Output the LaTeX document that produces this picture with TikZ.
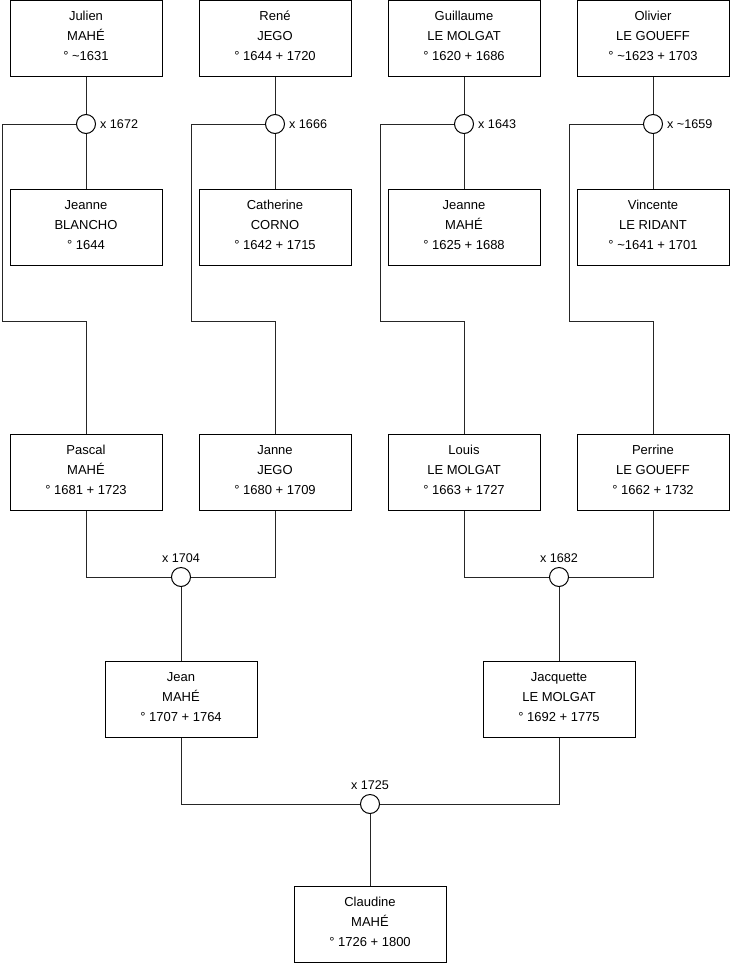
\documentclass[tikz,border=0pt]{standalone}
\usepackage{fontspec}
\setmainfont{Liberation Sans}
\usepackage{tikz}

\begin{document}
\begin{tikzpicture}[
        x=1pt, y=-1pt,
        person/.style={draw, rectangle, minimum width=152pt, minimum height=76pt,
                       align=center, inner sep=2pt, line width=1pt, text depth=4pt,
                       font=\fontsize{13}{20}\selectfont},
        union/.style={draw, circle, minimum size=19pt, inner sep=0pt,
                      fill=white, line width=1pt},
        ulbl/.style={font=\fontsize{12.6}{14}\selectfont, inner sep=0pt},
        link/.style={line width=1pt, draw=black!85}
    ]
    \useasboundingbox (0,0) rectangle (740,975);

    % ---- Row 1: fathers ----
    \node[person] (julien)    at (86, 38)  {Julien\\MAHÉ\\° \textasciitilde 1631};
    \node[person] (rene)      at (275, 38) {René\\JEGO\\° 1644 + 1720};
    \node[person] (guillaume) at (464, 38) {Guillaume\\LE MOLGAT\\° 1620 + 1686};
    \node[person] (olivier)   at (653, 38) {Olivier\\LE GOUEFF\\° \textasciitilde 1623 + 1703};

    % ---- Marriages, first generation ----
    \node[union] (m1672) at (86, 124)  {};
    \node[union] (m1666) at (275, 124) {};
    \node[union] (m1643) at (464, 124) {};
    \node[union] (m1659) at (653, 124) {};
    \node[ulbl, anchor=west] (t1672) at ([xshift=4pt]m1672.east) {x 1672};
    \node[ulbl, anchor=west] (t1666) at ([xshift=4pt]m1666.east) {x 1666};
    \node[ulbl, anchor=west] (t1643) at ([xshift=4pt]m1643.east) {x 1643};
    \node[ulbl, anchor=west] (t1659) at ([xshift=4pt]m1659.east) {x \textasciitilde 1659};

    % ---- Row 2: mothers ----
    \node[person] (jeanneb)   at (86, 227)  {Jeanne\\BLANCHO\\° 1644};
    \node[person] (catherine) at (275, 227) {Catherine\\CORNO\\° 1642 + 1715};
    \node[person] (jeannem)   at (464, 227) {Jeanne\\MAHÉ\\° 1625 + 1688};
    \node[person] (vincente)  at (653, 227) {Vincente\\LE RIDANT\\° \textasciitilde 1641 + 1701};

    % ---- Row 3: children ----
    \node[person] (pascal)  at (86, 472)  {Pascal\\MAHÉ\\° 1681 + 1723};
    \node[person] (janne)   at (275, 472) {Janne\\JEGO\\° 1680 + 1709};
    \node[person] (louis)   at (464, 472) {Louis\\LE MOLGAT\\° 1663 + 1727};
    \node[person] (perrine) at (653, 472) {Perrine\\LE GOUEFF\\° 1662 + 1732};

    % ---- Marriages, second generation ----
    \node[union] (m1704) at (181, 577) {};
    \node[union] (m1682) at (559, 577) {};
    \node[ulbl, anchor=south] (t1704) at ([yshift=4pt]m1704.north) {x 1704};
    \node[ulbl, anchor=south] (t1682) at ([yshift=4pt]m1682.north) {x 1682};

    % ---- Row 4 ----
    \node[person] (jean)      at (181, 699) {Jean\\MAHÉ\\° 1707 + 1764};
    \node[person] (jacquette) at (559, 699) {Jacquette\\LE MOLGAT\\° 1692 + 1775};

    \node[union] (m1725) at (370, 804) {};
    \node[ulbl, anchor=south] (t1725) at ([yshift=4pt]m1725.north) {x 1725};

    % ---- Row 5 ----
    \node[person] (claudine) at (370, 924) {Claudine\\MAHÉ\\° 1726 + 1800};

    % ---- Connectors ----
    \coordinate (k1) at (2, 321);
    \coordinate (k2) at (191, 321);
    \coordinate (k3) at (380, 321);
    \coordinate (k4) at (569, 321);

    \draw[link] (julien) -- (m1672) -- (jeanneb);
    \draw[link] (rene) -- (m1666) -- (catherine);
    \draw[link] (guillaume) -- (m1643) -- (jeannem);
    \draw[link] (olivier) -- (m1659) -- (vincente);

    \draw[link] (m1672.west) -| (k1) -| (pascal.north);
    \draw[link] (m1666.west) -| (k2) -| (janne.north);
    \draw[link] (m1643.west) -| (k3) -| (louis.north);
    \draw[link] (m1659.west) -| (k4) -| (perrine.north);

    \draw[link] (pascal.south) |- (m1704.west);
    \draw[link] (janne.south) |- (m1704.east);
    \draw[link] (louis.south) |- (m1682.west);
    \draw[link] (perrine.south) |- (m1682.east);
    \draw[link] (m1704) -- (jean);
    \draw[link] (m1682) -- (jacquette);

    \draw[link] (jean.south) |- (m1725.west);
    \draw[link] (jacquette.south) |- (m1725.east);
    \draw[link] (m1725) -- (claudine);
\end{tikzpicture}
\end{document}
